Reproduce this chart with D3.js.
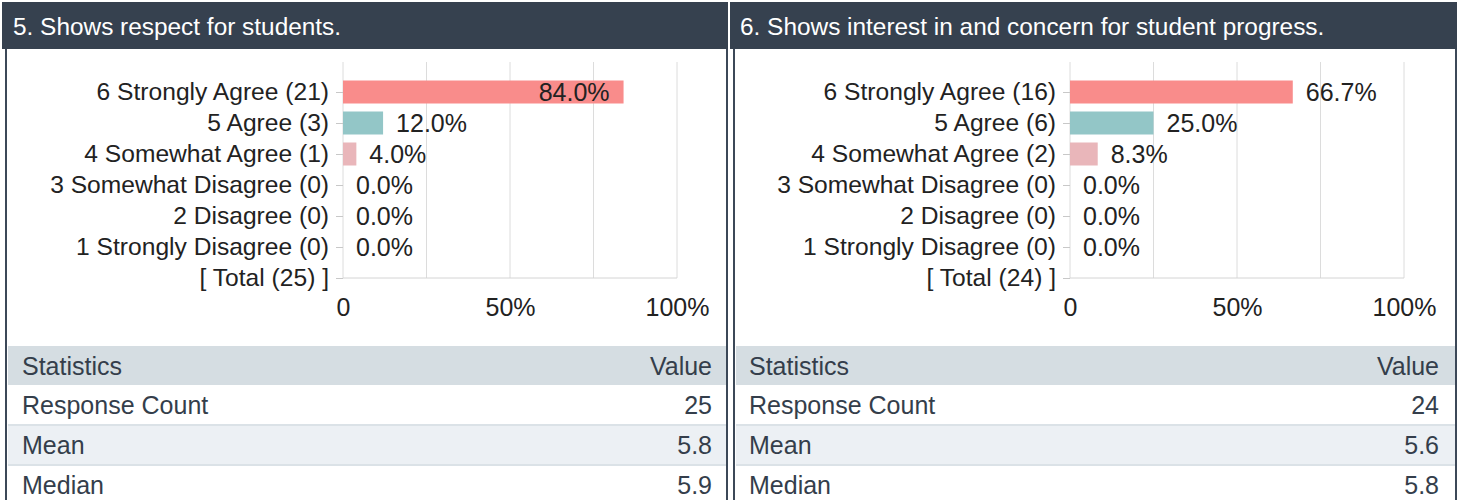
<!DOCTYPE html>
<html>
<head>
<meta charset="utf-8">
<script src="https://cdn.jsdelivr.net/npm/d3@7"></script>
<style>
  body { margin: 0; background: #fff; }
  svg { display: block; font-family: "Liberation Sans", Arial, sans-serif; }
</style>
</head>
<body>
<svg id="chart" width="1463" height="500"></svg>
<script>
// данные из двух вопросов анкеты
const answers = ['6 Strongly Agree', '5 Agree', '4 Somewhat Agree', '3 Somewhat Disagree', '2 Disagree', '1 Strongly Disagree'];
const titles = ['5. Shows respect for students.', '6. Shows interest in and concern for student progress.'];
const counts5 = [21, 3, 1, 0, 0, 0];
const counts6 = [16, 6, 2, 0, 0, 0];
const percents5 = [84.0, 12.0, 4.0, 0.0, 0.0, 0.0];
const percents6 = [66.7, 25.0, 8.3, 0.0, 0.0, 0.0];
const totals = [25, 24];
const statNames = ['Response Count', 'Mean', 'Median'];
const stats5 = ['25', '5.8', '5.9'];
const stats6 = ['24', '5.6', '5.8'];
const gridTicks = [0, 25, 50, 75, 100];
const tickLabels = ['0', '50%', '100%'];
const labelTicks = [0, 50, 100];
const barColors = ['#f98c8b', '#93c6c7', '#e9b6ba', '#cccccc', '#cccccc', '#cccccc'];

const svg = d3.select('#chart');
const font = '"Liberation Sans", Arial, sans-serif';

// рисует одну панель: шапка, бар-чарт, таблица статистики
const drawPanel = ({title, counts, percents, total, stats, shift, borderL, borderR}) => {
  const g = svg.append('g');

  // header
  g.append('rect')
    .attr('x', borderL - 4)
    .attr('y', 2)
    .attr('width', borderR - borderL + 5)
    .attr('height', 47)
    .attr('fill', '#36414f');
  g.append('text')
    .attr('x', shift + 13)
    .attr('y', 35)
    .attr('fill', '#fff')
    .attr('font-size', 24.4)
    .text(title);

  // borders
  [borderL, borderR].forEach(bx => {
    g.append('rect')
      .attr('x', bx - 1)
      .attr('y', 49)
      .attr('width', 2)
      .attr('height', 451)
      .attr('fill', '#3c4858');
  });

  const rows = answers.map((a, i) => `${a} (${counts[i]})`);
  rows.push(`[ Total (${total}) ]`);

  const x = d3.scaleLinear()
    .domain([0, 100])
    .range([shift + 343, shift + 677]);

  const y = d3.scalePoint()
    .domain(rows)
    .range([92, 278]);

  const top = 62;
  const bottom = y(rows[rows.length - 1]);

  // gridlines
  g.append('g')
    .selectAll('line')
    .data(gridTicks)
    .join('line')
    .attr('x1', d => x(d))
    .attr('x2', d => x(d))
    .attr('y1', top)
    .attr('y2', bottom)
    .attr('stroke', '#dcdcdc')
    .attr('stroke-width', 1);

  // baseline
  g.append('line')
    .attr('x1', x(0))
    .attr('x2', x(100))
    .attr('y1', bottom)
    .attr('y2', bottom)
    .attr('stroke', '#d4d4d4');

  // category axis
  const yAxis = d3.axisLeft(y).tickSize(7).tickPadding(7);
  g.append('g')
    .attr('transform', `translate(${x(0)},0)`)
    .call(yAxis)
    .call(a => a.select('.domain').remove())
    .call(a => a.selectAll('.tick line').attr('stroke', '#c8c8c8'))
    .call(a => a.selectAll('.tick text')
      .attr('font-size', 24.6)
      .attr('font-family', font)
      .attr('fill', '#222'));

  // percent axis
  const xAxis = d3.axisBottom(x)
    .tickValues(labelTicks)
    .tickFormat((d, i) => tickLabels[i])
    .tickSize(0)
    .tickPadding(20);
  g.append('g')
    .attr('transform', `translate(0,${bottom})`)
    .call(xAxis)
    .call(a => a.select('.domain').remove())
    .call(a => a.selectAll('.tick text')
      .attr('font-size', 25)
      .attr('font-family', font)
      .attr('fill', '#222'));

  // bars
  const data = answers.map((a, i) => ({row: rows[i], value: percents[i], color: barColors[i]}));
  g.append('g')
    .selectAll('rect')
    .data(data)
    .join('rect')
    .attr('x', x(0))
    .attr('y', d => y(d.row) - 11.5)
    .attr('width', d => x(d.value) - x(0))
    .attr('height', 23)
    .attr('fill', d => d.color);

  // value labels: снаружи, если влезает, иначе внутри бара
  const labels = g.append('g')
    .selectAll('text')
    .data(data)
    .join('text')
    .attr('y', d => y(d.row))
    .attr('dy', '0.35em')
    .attr('font-size', 25)
    .attr('fill', '#222')
    .text(d => `${d.value.toFixed(1)}%`);
  labels.each(function(d) {
    const w = this.getComputedTextLength();
    const end = x(d.value);
    if (end + 13 + w > x(100)) {
      d3.select(this).attr('x', end - 14).attr('text-anchor', 'end');
    } else {
      d3.select(this).attr('x', end + 13).attr('text-anchor', 'start');
    }
  });

  // statistics table
  const tLeft = borderL + 2;
  const tWidth = borderR - borderL - 3;
  const textL = shift + 22;
  const textR = shift + 712;
  const headerY = 346;
  const rowH = 39;
  const tColor = '#343e4b';

  g.append('rect')
    .attr('x', tLeft).attr('y', headerY)
    .attr('width', tWidth).attr('height', rowH)
    .attr('fill', '#d5dde2');
  g.append('text')
    .attr('x', textL).attr('y', headerY + 29)
    .attr('font-size', 25).attr('fill', tColor)
    .text('Statistics');
  g.append('text')
    .attr('x', textR).attr('y', headerY + 29)
    .attr('text-anchor', 'end')
    .attr('font-size', 25).attr('fill', tColor)
    .text('Value');

  statNames.forEach((name, i) => {
    const ry = headerY + rowH + i * 40;
    if (i % 2 === 1) {
      g.append('rect')
        .attr('x', tLeft).attr('y', ry)
        .attr('width', tWidth).attr('height', 40)
        .attr('fill', '#ecf0f4');
    }
    if (i > 0) {
      g.append('rect')
        .attr('x', tLeft).attr('y', ry - 1)
        .attr('width', tWidth).attr('height', 2)
        .attr('fill', '#dbe2e7');
    }
    g.append('text')
      .attr('x', textL).attr('y', ry + 29)
      .attr('font-size', 25).attr('fill', tColor)
      .text(name);
    g.append('text')
      .attr('x', textR).attr('y', ry + 29)
      .attr('text-anchor', 'end')
      .attr('font-size', 25).attr('fill', tColor)
      .text(stats[i]);
  });
};

drawPanel({
  title: titles[0], counts: counts5, percents: percents5, total: totals[0], stats: stats5,
  shift: 0, borderL: 6, borderR: 727,
});
drawPanel({
  title: titles[1], counts: counts6, percents: percents6, total: totals[1], stats: stats6,
  shift: 727, borderL: 734, borderR: 1456,
});
</script>
</body>
</html>
